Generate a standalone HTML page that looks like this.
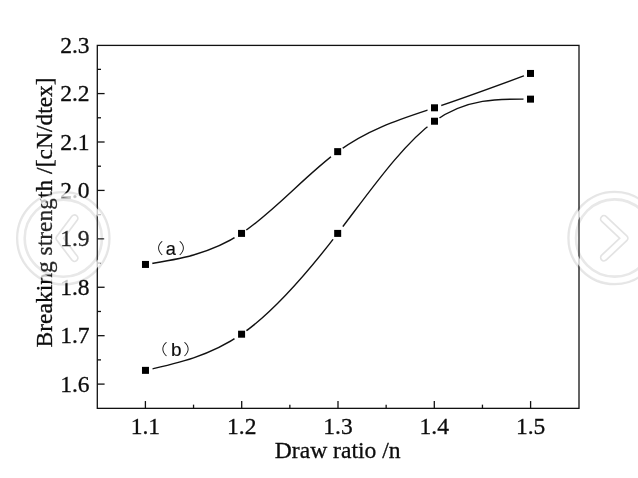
<!DOCTYPE html><html><head><meta charset="utf-8"><title>chart</title><style>html,body{margin:0;padding:0;background:#fff}svg{display:block}text{font-family:"Liberation Serif","Noto Serif CJK SC",serif;fill:#0c0c0c;stroke:#0c0c0c;stroke-width:0.3px}.s{font-family:"Liberation Sans","Noto Sans CJK SC",sans-serif;stroke-width:0.15px}</style></head><body>
<svg width="638" height="478" viewBox="0 0 638 478">
<rect width="638" height="478" fill="#fff"/>
<defs><filter id="soft" x="-10%" y="-10%" width="120%" height="120%"><feGaussianBlur stdDeviation="0.7"/></filter></defs>
<g filter="url(#soft)">
<circle cx="63.3" cy="238.2" r="46" fill="none" stroke="#e5e5e5" stroke-width="2.6"/>
<circle cx="63.3" cy="238.2" r="38.6" fill="none" stroke="#e5e5e5" stroke-width="2.6"/>
<circle cx="614.6" cy="238.0" r="46" fill="none" stroke="#e5e5e5" stroke-width="2.6"/>
<circle cx="614.6" cy="238.0" r="38.6" fill="none" stroke="#e5e5e5" stroke-width="2.6"/>
<path d="M74.5 218.3 L59.5 238.2 L74.5 258" fill="none" stroke="#e0e0e0" stroke-width="8.4" stroke-linecap="round" stroke-linejoin="round"/>
<path d="M74.5 218.3 L59.5 238.2 L74.5 258" fill="none" stroke="#fff" stroke-width="5" stroke-linecap="round" stroke-linejoin="round"/>
<path d="M604 219 L624.5 238.2 L604 257.5" fill="none" stroke="#e0e0e0" stroke-width="8.4" stroke-linecap="round" stroke-linejoin="round"/>
<path d="M604 219 L624.5 238.2 L604 257.5" fill="none" stroke="#fff" stroke-width="5" stroke-linecap="round" stroke-linejoin="round"/>
</g>
<g stroke="#111" stroke-width="1.3" fill="none">
<rect x="97.30" y="45.40" width="481.70" height="362.95"/>
<line x1="97.30" y1="384.10" x2="104.60" y2="384.10"/>
<line x1="97.30" y1="359.89" x2="101.00" y2="359.89"/>
<line x1="97.30" y1="335.68" x2="104.60" y2="335.68"/>
<line x1="97.30" y1="311.47" x2="101.00" y2="311.47"/>
<line x1="97.30" y1="287.26" x2="104.60" y2="287.26"/>
<line x1="97.30" y1="263.05" x2="101.00" y2="263.05"/>
<line x1="97.30" y1="238.84" x2="104.60" y2="238.84"/>
<line x1="97.30" y1="214.63" x2="101.00" y2="214.63"/>
<line x1="97.30" y1="190.42" x2="104.60" y2="190.42"/>
<line x1="97.30" y1="166.21" x2="101.00" y2="166.21"/>
<line x1="97.30" y1="142.00" x2="104.60" y2="142.00"/>
<line x1="97.30" y1="117.79" x2="101.00" y2="117.79"/>
<line x1="97.30" y1="93.58" x2="104.60" y2="93.58"/>
<line x1="97.30" y1="69.37" x2="101.00" y2="69.37"/>
<line x1="145.40" y1="408.35" x2="145.40" y2="401.05"/>
<line x1="193.55" y1="408.35" x2="193.55" y2="404.65"/>
<line x1="241.70" y1="408.35" x2="241.70" y2="401.05"/>
<line x1="289.85" y1="408.35" x2="289.85" y2="404.65"/>
<line x1="338.00" y1="408.35" x2="338.00" y2="401.05"/>
<line x1="386.15" y1="408.35" x2="386.15" y2="404.65"/>
<line x1="434.30" y1="408.35" x2="434.30" y2="401.05"/>
<line x1="482.45" y1="408.35" x2="482.45" y2="404.65"/>
<line x1="530.60" y1="408.35" x2="530.60" y2="401.05"/>
</g>
<text x="89.6" y="391.7" font-size="23.5" text-anchor="end">1.6</text>
<text x="89.6" y="343.3" font-size="23.5" text-anchor="end">1.7</text>
<text x="89.6" y="294.9" font-size="23.5" text-anchor="end">1.8</text>
<text x="89.6" y="246.4" font-size="23.5" text-anchor="end">1.9</text>
<text x="89.6" y="198.0" font-size="23.5" text-anchor="end">2.0</text>
<text x="89.6" y="149.6" font-size="23.5" text-anchor="end">2.1</text>
<text x="89.6" y="101.2" font-size="23.5" text-anchor="end">2.2</text>
<text x="89.6" y="52.8" font-size="23.5" text-anchor="end">2.3</text>
<text x="145.4" y="434.2" font-size="23.5" text-anchor="middle">1.1</text>
<text x="241.7" y="434.2" font-size="23.5" text-anchor="middle">1.2</text>
<text x="338.0" y="434.2" font-size="23.5" text-anchor="middle">1.3</text>
<text x="434.3" y="434.2" font-size="23.5" text-anchor="middle">1.4</text>
<text x="530.6" y="434.2" font-size="23.5" text-anchor="middle">1.5</text>
<text x="337.7" y="457.9" font-size="23.6" text-anchor="middle">Draw ratio /n</text>
<text transform="translate(52 212.4) rotate(-90)" font-size="23.5" text-anchor="middle">Breaking strength /[cN/dtex]</text>
<g stroke="#111" stroke-width="1.4" fill="none">
<path d="M145.48 264.45 C177.50 259.47 209.52 254.49 241.54 233.40 C273.59 212.29 305.63 175.04 337.68 151.64 C369.95 128.07 402.23 118.54 434.50 107.80 C466.50 97.15 498.50 85.30 530.50 73.45"/>
<path d="M145.48 370.36 C177.51 363.29 209.55 356.23 241.58 334.20 C273.61 312.17 305.65 275.18 337.68 233.40 C369.95 191.31 402.23 144.37 434.50 121.22 C466.50 98.27 498.50 98.70 530.50 99.14"/>
</g>
<circle cx="145.48" cy="264.45" r="7.00" fill="#fff"/>
<circle cx="240.60" cy="233.97" r="7.10" fill="#fff"/>
<circle cx="336.68" cy="152.30" r="7.40" fill="#fff"/>
<circle cx="434.40" cy="107.85" r="7.35" fill="#fff"/>
<circle cx="530.50" cy="73.45" r="7.10" fill="#fff"/>
<circle cx="145.48" cy="370.36" r="7.20" fill="#fff"/>
<circle cx="240.65" cy="334.87" r="7.25" fill="#fff"/>
<circle cx="337.95" cy="233.07" r="8.20" fill="#fff"/>
<circle cx="433.30" cy="122.18" r="7.55" fill="#fff"/>
<circle cx="530.50" cy="99.14" r="7.00" fill="#fff"/>
<rect x="141.98" y="260.95" width="7" height="7" fill="#000"/>
<rect x="238.04" y="229.90" width="7" height="7" fill="#000"/>
<rect x="334.18" y="148.14" width="7" height="7" fill="#000"/>
<rect x="431.00" y="104.30" width="7" height="7" fill="#000"/>
<rect x="527.00" y="69.95" width="7" height="7" fill="#000"/>
<rect x="141.98" y="366.86" width="7" height="7" fill="#000"/>
<rect x="238.08" y="330.70" width="7" height="7" fill="#000"/>
<rect x="334.18" y="229.90" width="7" height="7" fill="#000"/>
<rect x="431.00" y="117.72" width="7" height="7" fill="#000"/>
<rect x="527.00" y="95.64" width="7" height="7" fill="#000"/>
<text class="s"><tspan x="144.70" y="254.20" font-size="15" font-weight="300" stroke="none" textLength="18.75" lengthAdjust="spacingAndGlyphs">（</tspan><tspan x="165.80" y="255.00" font-size="18.2">a</tspan><tspan x="178.50" y="254.20" font-size="15" font-weight="300" stroke="none" textLength="18.75" lengthAdjust="spacingAndGlyphs">）</tspan></text>
<text class="s"><tspan x="149.00" y="355.20" font-size="15" font-weight="300" stroke="none" textLength="18.75" lengthAdjust="spacingAndGlyphs">（</tspan><tspan x="170.90" y="355.60" font-size="19">b</tspan><tspan x="183.20" y="355.20" font-size="15" font-weight="300" stroke="none" textLength="18.75" lengthAdjust="spacingAndGlyphs">）</tspan></text>
<g filter="url(#soft)">
<circle cx="63.3" cy="238.2" r="42.8" fill="none" stroke="#fff" stroke-opacity="0.72" stroke-width="4.4"/>
<circle cx="63.3" cy="238.2" r="46" fill="#fff" fill-opacity="0.1"/>
<circle cx="614.6" cy="238.0" r="42.8" fill="none" stroke="#fff" stroke-opacity="0.72" stroke-width="4.4"/>
<circle cx="614.6" cy="238.0" r="46" fill="#fff" fill-opacity="0.1"/>
</g>
</svg></body></html>
